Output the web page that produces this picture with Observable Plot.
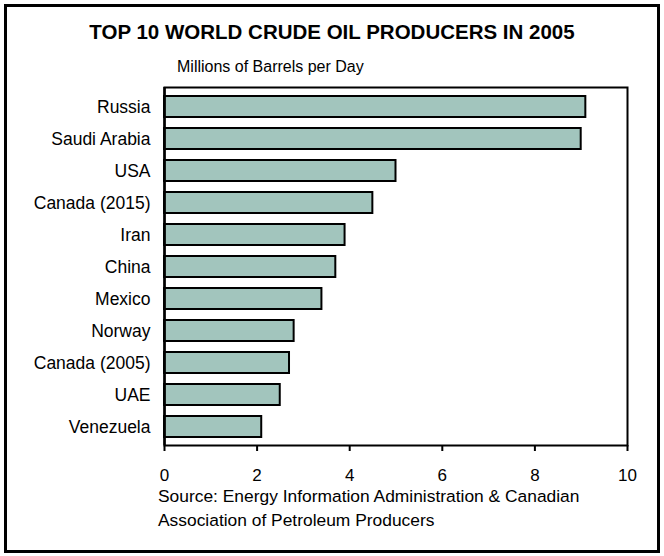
<!DOCTYPE html>
<html>
<head>
<meta charset="utf-8">
<script src="https://cdn.jsdelivr.net/npm/d3@7"></script>
<script src="https://cdn.jsdelivr.net/npm/@observablehq/plot@0.6"></script>
<style>
  html, body { margin: 0; padding: 0; background: #fff; }
  #wrap { position: relative; width: 664px; height: 556px; font-family: "Liberation Sans", Arial, sans-serif; color: #000; overflow: hidden; }
  #border { position: absolute; left: 4px; top: 4px; width: 650px; height: 543px; border: 3px solid #000; box-sizing: content-box; }
  #title { position: absolute; left: 0; width: 664px; top: 22px; text-align: center; font-weight: bold; font-size: 20.5px; line-height: 1; }
  #subtitle { position: absolute; left: 177px; top: 58px; font-size: 16px; line-height: 18px; }
  #source { position: absolute; left: 158px; top: 485px; font-size: 17.4px; line-height: 23.5px; }
  #chart { position: absolute; left: 0; top: 0; }
</style>
</head>
<body>
<div id="wrap">
  <div id="chart"></div>
  <div id="border"></div>
  <div id="title">TOP 10 WORLD CRUDE OIL PRODUCERS IN 2005</div>
  <div id="subtitle">Millions of Barrels per Day</div>
  <div id="source">Source: Energy Information Administration &amp; Canadian<br>Association of Petroleum Producers</div>
</div>
<script>
const countries = ["Russia", "Saudi Arabia", "USA", "Canada (2015)", "Iran", "China", "Mexico", "Norway", "Canada (2005)", "UAE", "Venezuela"];
const production = [9.1, 9.0, 5.0, 4.5, 3.9, 3.7, 3.4, 2.8, 2.7, 2.5, 2.1];
const xTicks = [0, 2, 4, 6, 8, 10];

const data = countries.map((c, i) => ({country: c, value: production[i]}));

const chart = Plot.plot({
  width: 664,
  height: 556,
  marginLeft: 164,
  marginRight: 37,
  marginTop: 87,
  marginBottom: 111,
  style: {fontFamily: "'Liberation Sans', Arial, sans-serif", fontSize: "17px", color: "#000", background: "transparent"},
  x: {domain: [0, 10], ticks: xTicks, label: null},
  y: {domain: countries, label: null, paddingInner: 0.35, paddingOuter: 0.175, align: 0.5},
  marks: [
    Plot.barX(data, {x: "value", y: "country", fill: "#a2c5bd", stroke: "#000", strokeWidth: 2}),
    Plot.frame({stroke: "#000", strokeWidth: 2}),
    Plot.ruleX([0], {stroke: "#000", strokeWidth: 2.5}),
    Plot.axisX({ticks: xTicks, tickSize: 6, tickPadding: 17, strokeWidth: 2, fontSize: 17, label: null}),
    Plot.axisY({tickSize: 0, tickPadding: 14, fontSize: 17.5, label: null})
  ]
});
document.getElementById("chart").appendChild(chart);
</script>
</body>
</html>
